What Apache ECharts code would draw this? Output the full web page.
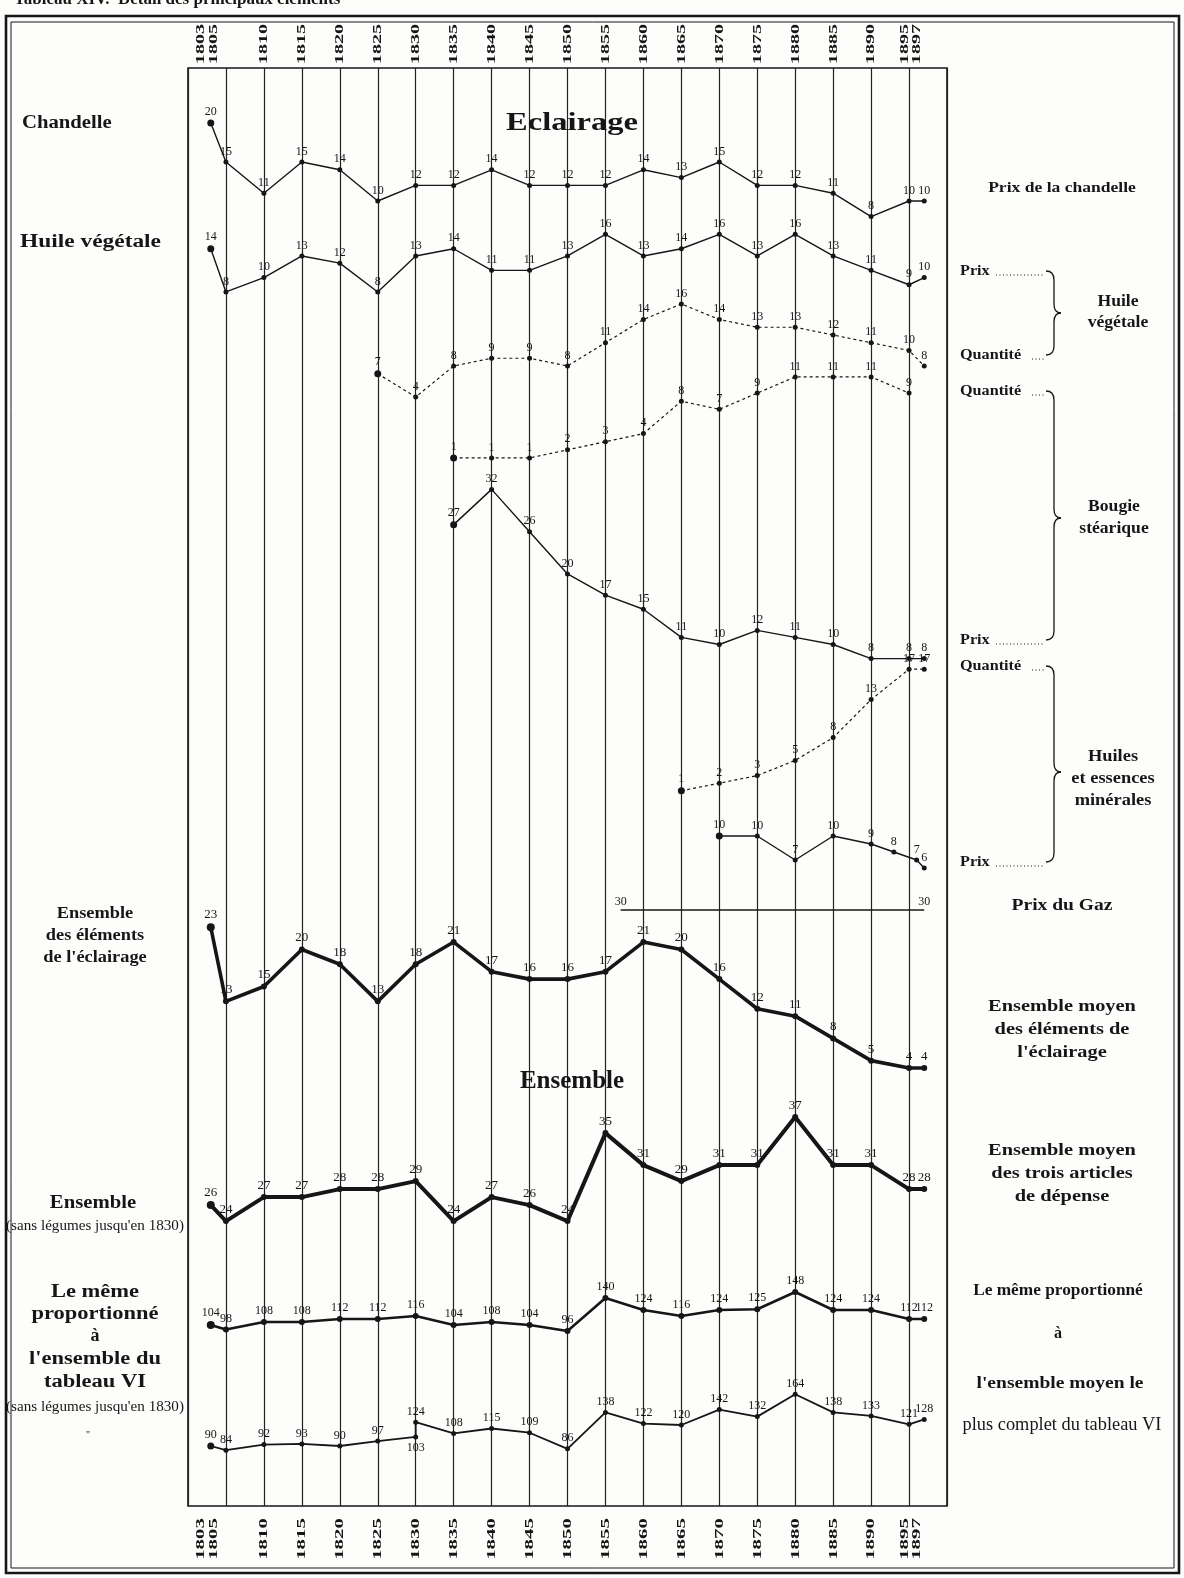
<!DOCTYPE html>
<html>
<head>
<meta charset="utf-8">
<script src="https://cdn.jsdelivr.net/npm/echarts@6/dist/echarts.min.js"></script>
<style>
  html, body { margin: 0; padding: 0; background: #fdfdfc; }
  #main { width: 1184px; height: 1578px; }
</style>
</head>
<body>
<div id="main"></div>
<script>
// years of the vertical rules / points
const years = [1803, 1805, 1810, 1815, 1820, 1825, 1830, 1835, 1840, 1845, 1850,
  1855, 1860, 1865, 1870, 1875, 1880, 1885, 1890, 1895, 1897];

// Eclairage
const chandellePrix = [20, 15, 11, 15, 14, 10, 12, 12, 14, 12, 12, 12, 14, 13, 15, 12, 12, 11, 8, 10, 10];
const huilePrix = [14, 8, 10, 13, 12, 8, 13, 14, 11, 11, 13, 16, 13, 14, 16, 13, 16, 13, 11, 9, 10];
const huileQuantite = [null, null, null, null, null, 7, 4, 8, 9, 9, 8, 11, 14, 16, 14, 13, 13, 12, 11, 10, 8];
const bougieQuantite = [null, null, null, null, null, null, null, 1, 1, 1, 2, 3, 4, 8, 7, 9, 11, 11, 11, 9, null];
const bougiePrix = [null, null, null, null, null, null, null, 27, 32, 26, 20, 17, 15, 11, 10, 12, 11, 10, 8, 8, 8];
const mineralesQuantite = [null, null, null, null, null, null, null, null, null, null, null, null, null,
  1, 2, 3, 5, 8, 13, 17, 17];
const mineralesAnnees = [1870, 1875, 1880, 1885, 1890, 1893, 1896, 1897];
const mineralesPrix = [10, 10, 7, 10, 9, 8, 7, 6];
const gazAnnees = [1857, 1897];
const gazPrix = [30, 30];
const ensembleEclairage = [23, 13, 15, 20, 18, 13, 18, 21, 17, 16, 16, 17, 21, 20, 16, 12, 11, 8, 5, 4, 4];

// Ensemble
const ensemble = [26, 24, 27, 27, 28, 28, 29, 24, 27, 26, 24, 35, 31, 29, 31, 31, 37, 31, 31, 28, 28];
const proportionne = [104, 98, 108, 108, 112, 112, 116, 104, 108, 104, 96, 140, 124, 116, 124, 125, 148, 124, 124, 112, 112];
const completAnnees = [1803, 1805, 1810, 1815, 1820, 1825, 1830, 1830, 1835, 1840, 1845, 1850,
  1855, 1860, 1865, 1870, 1875, 1880, 1885, 1890, 1895, 1897];
const complet = [90, 84, 92, 93, 90, 97, 103, 124, 108, 115, 109, 86, 138, 122, 120, 142, 132, 164, 138, 133, 121, 128];

const SERIF = '"Liberation Serif", "DejaVu Serif", serif';
const INK = '#161616';

// each curve has its own hidden value axis; the range puts it in its band of the sheet
const seriesDefs = [
  { name: 'Prix de la chandelle', xs: years, ys: chandellePrix, range: [-157.3, 27.05], width: 1.4, dot: 5 },
  { name: 'Huile végétale prix', xs: years, ys: huilePrix, range: [-160.6, 39.1], width: 1.4, dot: 5 },
  { name: 'Huile végétale quantité', xs: years, ys: huileQuantite, range: [-139.1, 46.45], width: 1.2, dot: 5, dash: true },
  { name: 'Bougie stéarique quantité', xs: years, ys: bougieQuantite, range: [-128.4, 49.14], width: 1.2, dot: 5, dash: true },
  { name: 'Bougie stéarique prix', xs: years, ys: bougiePrix, range: [-112.2, 91.77], width: 1.4, dot: 5 },
  { name: 'Huiles minérales quantité', xs: years, ys: mineralesQuantite, range: [-93.1, 96.1], width: 1.2, dot: 5, dash: true },
  { name: 'Huiles minérales prix', xs: mineralesAnnees, ys: mineralesPrix, range: [-73.75, 106], width: 1.4, dot: 5 },
  { name: 'Prix du Gaz', xs: gazAnnees, ys: gazPrix, range: [-44.5, 135.25], width: 1.3, dot: 0 },
  { name: "Ensemble de l'éclairage", xs: years, ys: ensembleEclairage, range: [-55.1, 138.95], width: 3.6, dot: 6, font: 13 },
  { name: 'Ensemble', xs: years, ys: ensemble, range: [-11.6, 168.1], width: 4, dot: 6, font: 13 },
  { name: 'Le même proportionné', xs: years, ys: proportionne, range: [-137.3, 1780], width: 2.6, dot: 6 },
  { name: 'Le même, ensemble moyen', xs: completAnnees, ys: complet, range: [4.29, 2058.6], width: 1.8, dot: 5, below: [6] }
];

function makeSeries(d, i) {
  const data = [];
  d.xs.forEach((x, k) => {
    const v = d.ys[k];
    if (v == null) return;
    const item = { value: [x, v] };
    if (data.length === 0 && d.dot > 0) item.symbolSize = d.dot + 2;
    if (d.below && d.below.includes(k)) item.label = { position: 'bottom' };
    data.push(item);
  });
  return {
    name: d.name,
    type: 'line',
    yAxisIndex: i,
    data,
    symbol: 'circle',
    symbolSize: d.dot || 0.1,
    lineStyle: { color: INK, width: d.width, type: d.dash ? [3, 3] : 'solid' },
    itemStyle: { color: INK },
    label: {
      show: true,
      position: 'top',
      distance: 2,
      color: INK,
      fontFamily: SERIF,
      fontSize: d.font || 12,
      formatter: (p) => String(p.value[1]),
    },
    emphasis: { disabled: true },
    animation: false,
    z: 3,
  };
}

const chart = echarts.init(document.getElementById('main'), null, { renderer: 'canvas' });

chart.setOption({
  backgroundColor: '#fdfdfc',
  animation: false,
  grid: { left: 188, top: 68, width: 759, height: 1438, show: true, borderColor: INK, borderWidth: 1.6 },
  xAxis: {
    type: 'value',
    min: 1800,
    max: 1900,
    interval: 5,
    axisLabel: { show: false },
    axisLine: { show: false },
    axisTick: { show: false },
    splitLine: { show: true, lineStyle: { color: '#222', width: 1.2 } },
  },
  yAxis: seriesDefs.map((d) => ({ type: 'value', min: d.range[0], max: d.range[1], show: false })),
  series: seriesDefs.map(makeSeries),
});

// ---- text, braces and frame drawn around the plot
function txt(x, y, text, o = {}) {
  const align = o.align || 'center';
  return {
    type: 'text',
    x, y,
    rotation: o.rot || 0,
    scaleX: o.sx || 1,
    silent: true,
    z: 10,
    style: {
      text,
      font: `${o.weight || 'bold'} ${o.size || 16}px ${SERIF}`,
      fill: INK,
      align, verticalAlign: o.valign || 'middle',
      textAlign: align, textVerticalAlign: o.valign || 'middle',
    },
  };
}

function brace(x, y1, y2, ym) {
  const st = { stroke: INK, lineWidth: 1.3, fill: null };
  const v = x + 8;
  return [
    { type: 'bezierCurve', shape: { x1: x, y1: y1, cpx1: v, cpy1: y1, x2: v, y2: y1 + 9 }, style: st },
    { type: 'line', shape: { x1: v, y1: y1 + 9, x2: v, y2: ym - 9 }, style: st },
    { type: 'bezierCurve', shape: { x1: v, y1: ym - 9, cpx1: v, cpy1: ym, x2: v + 7, y2: ym }, style: st },
    { type: 'bezierCurve', shape: { x1: v + 7, y1: ym, cpx1: v, cpy1: ym, x2: v, y2: ym + 9 }, style: st },
    { type: 'line', shape: { x1: v, y1: ym + 9, x2: v, y2: y2 - 9 }, style: st },
    { type: 'bezierCurve', shape: { x1: v, y1: y2 - 9, cpx1: v, cpy1: y2, x2: x, y2: y2 }, style: st },
  ];
}

function leader(word, y, xEnd) {
  const w = word === 'Prix' ? 34 : 70;
  return [
    txt(960, y, word, { align: 'left', size: 15, sx: 1.08 }),
    { type: 'line', shape: { x1: 960 + w + 2, y1: y + 4, x2: xEnd, y2: y + 4 },
      style: { stroke: INK, lineWidth: 1, lineDash: [1, 2.5] } },
  ];
}

const px = (yr) => chart.convertToPixel({ xAxisIndex: 0 }, yr);

const yearX = years.map((yr) => {
  if (yr === 1803) return px(1805) - 25;
  if (yr === 1805) return px(1805) - 12;
  if (yr === 1895) return px(1895) - 4;
  if (yr === 1897) return px(1895) + 8;
  return px(yr);
});

const els = [];
// page frame
els.push({ type: 'rect', shape: { x: 6, y: 16, width: 1173, height: 1557 }, style: { fill: null, stroke: INK, lineWidth: 2.6 }, silent: true });
els.push({ type: 'rect', shape: { x: 11, y: 22, width: 1163, height: 1546 }, style: { fill: null, stroke: INK, lineWidth: 1 }, silent: true });
// cut title on top
els.push(txt(14, 8, 'Tableau XIV.  Détail des principaux éléments', { align: 'left', size: 17, valign: 'bottom' }));

// year labels top and bottom
years.forEach((yr, i) => {
  els.push(txt(yearX[i], 44, String(yr), { rot: Math.PI / 2, size: 13, sx: 1.55 }));
  els.push(txt(yearX[i], 1539, String(yr), { rot: Math.PI / 2, size: 13, sx: 1.6 }));
});

// titles in the plot
els.push(txt(572, 123, 'Eclairage', { size: 26, sx: 1.25 }));
els.push(txt(572, 1082, 'Ensemble', { size: 25 }));

// left side
els.push(txt(22, 123, 'Chandelle', { align: 'left', size: 18, sx: 1.15 }));
els.push(txt(20, 242, 'Huile végétale', { align: 'left', size: 18, sx: 1.3 }));
els.push(txt(95, 914, 'Ensemble', { size: 17, sx: 1.08 }));
els.push(txt(95, 936, 'des éléments', { size: 17, sx: 1.08 }));
els.push(txt(95, 958, "de l'éclairage", { size: 17, sx: 1.08 }));
els.push(txt(93, 1203, 'Ensemble', { size: 18, sx: 1.15 }));
els.push(txt(95, 1226, "(sans légumes jusqu'en 1830)", { size: 14, weight: 'normal', sx: 1.08 }));
els.push(txt(95, 1292, 'Le même', { size: 18, sx: 1.25 }));
els.push(txt(95, 1314, 'proportionné', { size: 18, sx: 1.25 }));
els.push(txt(95, 1336, 'à', { size: 18 }));
els.push(txt(95, 1359, "l'ensemble du", { size: 18, sx: 1.25 }));
els.push(txt(95, 1382, 'tableau VI', { size: 18, sx: 1.25 }));
els.push(txt(95, 1407, "(sans légumes jusqu'en 1830)", { size: 14, weight: 'normal', sx: 1.08 }));
els.push(txt(88, 1435, '"', { size: 10, weight: 'normal' }));

// right side
els.push(txt(1062, 188, 'Prix de la chandelle', { size: 15, sx: 1.17 }));
els.push(...leader('Prix', 271, 1045), ...leader('Quantité', 355, 1045));
els.push(...brace(1046, 271, 355, 313));
els.push(txt(1118, 302, 'Huile', { size: 16, sx: 1.1 }), txt(1118, 323, 'végétale', { size: 16, sx: 1.1 }));

els.push(...leader('Quantité', 391, 1045), ...leader('Prix', 640, 1045));
els.push(...brace(1046, 391, 640, 518));
els.push(txt(1114, 507, 'Bougie', { size: 16, sx: 1.1 }), txt(1114, 529, 'stéarique', { size: 16, sx: 1.1 }));

els.push(...leader('Quantité', 666, 1045), ...leader('Prix', 862, 1045));
els.push(...brace(1046, 666, 862, 772));
els.push(txt(1113, 757, 'Huiles', { size: 16, sx: 1.15 }), txt(1113, 779, 'et essences', { size: 16, sx: 1.15 }),
  txt(1113, 801, 'minérales', { size: 16, sx: 1.15 }));

els.push(txt(1062, 906, 'Prix du Gaz', { size: 16, sx: 1.22 }));
els.push(txt(1062, 1007, 'Ensemble moyen', { size: 17, sx: 1.2 }));
els.push(txt(1062, 1030, 'des éléments de', { size: 17, sx: 1.2 }));
els.push(txt(1062, 1053, "l'éclairage", { size: 17, sx: 1.2 }));
els.push(txt(1062, 1151, 'Ensemble moyen', { size: 17, sx: 1.2 }));
els.push(txt(1062, 1174, 'des trois articles', { size: 17, sx: 1.2 }));
els.push(txt(1062, 1197, 'de dépense', { size: 17, sx: 1.2 }));
els.push(txt(1058, 1291, 'Le même proportionné', { size: 16, sx: 1.08 }));
els.push(txt(1058, 1334, 'à', { size: 16 }));
els.push(txt(1060, 1384, "l'ensemble moyen le", { size: 16, sx: 1.22 }));
els.push(txt(1062, 1425, 'plus complet du tableau VI', { size: 18, weight: 'normal', sx: 1.02 }));

chart.setOption({ graphic: { elements: els } });
</script>
</body>
</html>
